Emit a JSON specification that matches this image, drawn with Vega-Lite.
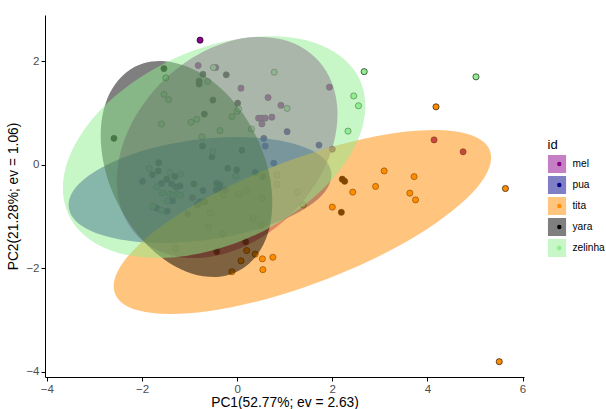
{
  "$schema": "https://vega.github.io/schema/vega-lite/v6.json",
  "width": 479,
  "height": 362,
  "autosize": {"type": "none"},
  "padding": {"left": 45, "top": 15, "right": 82, "bottom": 32},
  "background": "white",
  "config": {
    "view": {"stroke": null},
    "font": "Liberation Sans",
    "axis": {"labelFont": "Liberation Sans", "titleFont": "Liberation Sans"},
    "legend": {"labelFont": "Liberation Sans", "titleFont": "Liberation Sans"}
  },
  "datasets": {
    "pts": [
      {"id":"mel","pc1":-0.78,"pc2":2.41},{"id":"mel","pc1":-0.82,"pc2":1.92},{"id":"mel","pc1":-0.45,"pc2":1.88},
      {"id":"mel","pc1":0.08,"pc2":1.48},{"id":"mel","pc1":0.65,"pc2":1.30},{"id":"mel","pc1":0.92,"pc2":1.15},
      {"id":"mel","pc1":0.45,"pc2":0.90},{"id":"mel","pc1":0.52,"pc2":0.90},{"id":"mel","pc1":0.59,"pc2":0.90},
      {"id":"mel","pc1":0.73,"pc2":0.92},{"id":"mel","pc1":0.52,"pc2":0.79},{"id":"mel","pc1":1.94,"pc2":1.50},
      {"id":"mel","pc1":2.00,"pc2":0.30},{"id":"mel","pc1":4.14,"pc2":0.48},{"id":"mel","pc1":4.75,"pc2":0.25},
      {"id":"mel","pc1":-0.94,"pc2":-0.64},{"id":"mel","pc1":-0.25,"pc2":-0.49},
      {"id":"pua","pc1":1.05,"pc2":0.64},{"id":"pua","pc1":0.56,"pc2":0.51},{"id":"pua","pc1":0.59,"pc2":0.36},
      {"id":"pua","pc1":0.77,"pc2":0.03},{"id":"pua","pc1":1.72,"pc2":0.38},{"id":"pua","pc1":0.38,"pc2":-0.15},
      {"id":"pua","pc1":0.54,"pc2":-0.23},{"id":"pua","pc1":-1.99,"pc2":-0.32},{"id":"pua","pc1":-1.59,"pc2":-0.36},
      {"id":"pua","pc1":-1.38,"pc2":-0.37},{"id":"pua","pc1":-1.29,"pc2":-0.43},{"id":"pua","pc1":-1.36,"pc2":-0.70},
      {"id":"pua","pc1":-1.69,"pc2":-0.84},{"id":"pua","pc1":-1.47,"pc2":-0.90},{"id":"pua","pc1":-0.72,"pc2":-0.50},
      {"id":"pua","pc1":-0.78,"pc2":-0.72},{"id":"pua","pc1":-0.84,"pc2":-0.78},{"id":"pua","pc1":-1.04,"pc2":-0.95},
      {"id":"pua","pc1":-0.43,"pc2":-0.36},{"id":"pua","pc1":-0.44,"pc2":-0.49},
      {"id":"yara","pc1":-1.54,"pc2":1.86},{"id":"yara","pc1":-0.72,"pc2":1.75},{"id":"yara","pc1":-0.23,"pc2":1.74},
      {"id":"yara","pc1":-0.80,"pc2":1.62},{"id":"yara","pc1":-0.80,"pc2":1.56},{"id":"yara","pc1":-0.51,"pc2":1.25},
      {"id":"yara","pc1":0.01,"pc2":1.19},{"id":"yara","pc1":-0.69,"pc2":0.98},{"id":"yara","pc1":-2.59,"pc2":0.51},
      {"id":"yara","pc1":-0.73,"pc2":0.36},{"id":"yara","pc1":-0.53,"pc2":0.15},{"id":"yara","pc1":0.10,"pc2":0.28},
      {"id":"yara","pc1":-1.65,"pc2":0.04},{"id":"yara","pc1":-1.66,"pc2":-0.12},{"id":"yara","pc1":-1.78,"pc2":-0.19},
      {"id":"yara","pc1":-1.31,"pc2":-0.23},{"id":"yara","pc1":-1.48,"pc2":-0.28},{"id":"yara","pc1":-1.20,"pc2":-0.41},
      {"id":"yara","pc1":-0.91,"pc2":-0.37},{"id":"yara","pc1":-0.36,"pc2":-0.39},{"id":"yara","pc1":-0.39,"pc2":-0.48},
      {"id":"yara","pc1":-0.68,"pc2":-0.72},{"id":"yara","pc1":-0.20,"pc2":-0.07},{"id":"yara","pc1":-0.01,"pc2":-0.10},
      {"id":"yara","pc1":0.18,"pc2":-1.49},{"id":"yara","pc1":-0.43,"pc2":-1.68},{"id":"yara","pc1":2.21,"pc2":-0.28},
      {"id":"yara","pc1":2.26,"pc2":-0.32},{"id":"yara","pc1":2.19,"pc2":-0.92},
      {"id":"tita","pc1":0.20,"pc2":-1.66},{"id":"tita","pc1":0.38,"pc2":-1.73},{"id":"tita","pc1":0.53,"pc2":-1.82},
      {"id":"tita","pc1":0.75,"pc2":-1.79},{"id":"tita","pc1":0.08,"pc2":-1.86},{"id":"tita","pc1":0.54,"pc2":-2.03},
      {"id":"tita","pc1":-0.11,"pc2":-2.07},{"id":"tita","pc1":2.00,"pc2":-0.82},{"id":"tita","pc1":2.43,"pc2":-0.53},
      {"id":"tita","pc1":2.91,"pc2":-0.42},{"id":"tita","pc1":3.09,"pc2":-0.12},{"id":"tita","pc1":3.72,"pc2":-0.23},
      {"id":"tita","pc1":3.63,"pc2":-0.55},{"id":"tita","pc1":3.75,"pc2":-0.68},{"id":"tita","pc1":4.18,"pc2":1.12},
      {"id":"tita","pc1":5.64,"pc2":-0.46},{"id":"tita","pc1":5.51,"pc2":-3.81},
      {"id":"zelinha","pc1":-1.50,"pc2":1.68},{"id":"zelinha","pc1":-0.50,"pc2":1.88},{"id":"zelinha","pc1":-0.62,"pc2":1.61},
      {"id":"zelinha","pc1":0.78,"pc2":1.79},{"id":"zelinha","pc1":-1.54,"pc2":1.36},{"id":"zelinha","pc1":-1.44,"pc2":1.26},
      {"id":"zelinha","pc1":1.05,"pc2":1.09},{"id":"zelinha","pc1":0.00,"pc2":1.03},{"id":"zelinha","pc1":0.03,"pc2":1.08},
      {"id":"zelinha","pc1":-0.11,"pc2":0.93},{"id":"zelinha","pc1":-0.85,"pc2":0.88},{"id":"zelinha","pc1":-0.97,"pc2":0.82},
      {"id":"zelinha","pc1":-1.59,"pc2":0.79},{"id":"zelinha","pc1":-0.36,"pc2":0.66},{"id":"zelinha","pc1":0.30,"pc2":0.69},
      {"id":"zelinha","pc1":-0.74,"pc2":0.54},{"id":"zelinha","pc1":-0.51,"pc2":0.25},{"id":"zelinha","pc1":2.67,"pc2":1.80},
      {"id":"zelinha","pc1":2.45,"pc2":1.33},{"id":"zelinha","pc1":2.55,"pc2":1.14},{"id":"zelinha","pc1":2.33,"pc2":0.65},
      {"id":"zelinha","pc1":5.02,"pc2":1.70},{"id":"zelinha","pc1":-1.85,"pc2":-0.07},{"id":"zelinha","pc1":-1.41,"pc2":-0.15},
      {"id":"zelinha","pc1":-1.19,"pc2":-0.18},{"id":"zelinha","pc1":-1.69,"pc2":-0.43},{"id":"zelinha","pc1":-1.57,"pc2":-0.55},
      {"id":"zelinha","pc1":-1.41,"pc2":-0.57},{"id":"zelinha","pc1":-1.34,"pc2":-0.59},{"id":"zelinha","pc1":-1.26,"pc2":-0.57},
      {"id":"zelinha","pc1":-1.19,"pc2":-0.59},{"id":"zelinha","pc1":-1.47,"pc2":-0.70},{"id":"zelinha","pc1":-1.78,"pc2":-0.81},
      {"id":"zelinha","pc1":-1.59,"pc2":-0.88},{"id":"zelinha","pc1":-0.29,"pc2":-0.59},{"id":"zelinha","pc1":-0.03,"pc2":-0.22},
      {"id":"zelinha","pc1":0.20,"pc2":-0.51},{"id":"zelinha","pc1":0.03,"pc2":-0.57},{"id":"zelinha","pc1":0.84,"pc2":-0.20},
      {"id":"zelinha","pc1":0.84,"pc2":-0.38},{"id":"zelinha","pc1":0.52,"pc2":-0.65},{"id":"zelinha","pc1":-0.60,"pc2":-1.20},
      {"id":"zelinha","pc1":-0.30,"pc2":-1.33},{"id":"zelinha","pc1":0.33,"pc2":-1.04},{"id":"zelinha","pc1":0.50,"pc2":-1.17},
      {"id":"zelinha","pc1":-1.29,"pc2":-1.62},{"id":"zelinha","pc1":1.26,"pc2":-0.53},{"id":"zelinha","pc1":1.39,"pc2":-0.78},
      {"id":"zelinha","pc1":-0.57,"pc2":-0.93}
    ],
    "ell": [
      {"id":"mel","k":0,"pc1":2.110,"pc2":0.974},{"id":"mel","k":1,"pc1":2.031,"pc2":1.480},{"id":"mel","k":2,"pc1":1.799,"pc2":1.908},
      {"id":"mel","k":3,"pc1":1.430,"pc2":2.228},{"id":"mel","k":4,"pc1":0.950,"pc2":2.420},{"id":"mel","k":5,"pc1":0.390,"pc2":2.469},
      {"id":"mel","k":6,"pc1":-0.211,"pc2":2.372},{"id":"mel","k":7,"pc1":-0.812,"pc2":2.137},{"id":"mel","k":8,"pc1":-1.372,"pc2":1.778},
      {"id":"mel","k":9,"pc1":-1.852,"pc2":1.322},{"id":"mel","k":10,"pc1":-2.221,"pc2":0.798},{"id":"mel","k":11,"pc1":-2.453,"pc2":0.242},
      {"id":"mel","k":12,"pc1":-2.532,"pc2":-0.308},{"id":"mel","k":13,"pc1":-2.453,"pc2":-0.814},{"id":"mel","k":14,"pc1":-2.221,"pc2":-1.242},
      {"id":"mel","k":15,"pc1":-1.852,"pc2":-1.562},{"id":"mel","k":16,"pc1":-1.372,"pc2":-1.754},{"id":"mel","k":17,"pc1":-0.812,"pc2":-1.803},
      {"id":"mel","k":18,"pc1":-0.211,"pc2":-1.706},{"id":"mel","k":19,"pc1":0.390,"pc2":-1.471},{"id":"mel","k":20,"pc1":0.950,"pc2":-1.112},
      {"id":"mel","k":21,"pc1":1.430,"pc2":-0.656},{"id":"mel","k":22,"pc1":1.799,"pc2":-0.132},{"id":"mel","k":23,"pc1":2.031,"pc2":0.424},
      {"id":"pua","k":0,"pc1":1.983,"pc2":-0.199},{"id":"pua","k":1,"pc1":1.889,"pc2":0.046},{"id":"pua","k":2,"pc1":1.613,"pc2":0.254},
      {"id":"pua","k":3,"pc1":1.173,"pc2":0.411},{"id":"pua","k":4,"pc1":0.601,"pc2":0.507},{"id":"pua","k":5,"pc1":-0.065,"pc2":0.536},
      {"id":"pua","k":6,"pc1":-0.781,"pc2":0.494},{"id":"pua","k":7,"pc1":-1.497,"pc2":0.386},{"id":"pua","k":8,"pc1":-2.163,"pc2":0.217},
      {"id":"pua","k":9,"pc1":-2.735,"pc2":0.001},{"id":"pua","k":10,"pc1":-3.175,"pc2":-0.248},{"id":"pua","k":11,"pc1":-3.451,"pc2":-0.514},
      {"id":"pua","k":12,"pc1":-3.545,"pc2":-0.779},{"id":"pua","k":13,"pc1":-3.451,"pc2":-1.024},{"id":"pua","k":14,"pc1":-3.175,"pc2":-1.232},
      {"id":"pua","k":15,"pc1":-2.735,"pc2":-1.389},{"id":"pua","k":16,"pc1":-2.163,"pc2":-1.485},{"id":"pua","k":17,"pc1":-1.497,"pc2":-1.514},
      {"id":"pua","k":18,"pc1":-0.781,"pc2":-1.472},{"id":"pua","k":19,"pc1":-0.065,"pc2":-1.364},{"id":"pua","k":20,"pc1":0.601,"pc2":-1.195},
      {"id":"pua","k":21,"pc1":1.173,"pc2":-0.979},{"id":"pua","k":22,"pc1":1.613,"pc2":-0.730},{"id":"pua","k":23,"pc1":1.889,"pc2":-0.464},
      {"id":"tita","k":0,"pc1":5.339,"pc2":0.135},{"id":"tita","k":1,"pc1":5.204,"pc2":0.423},{"id":"tita","k":2,"pc1":4.807,"pc2":0.606},
      {"id":"tita","k":3,"pc1":4.176,"pc2":0.672},{"id":"tita","k":4,"pc1":3.355,"pc2":0.618},{"id":"tita","k":5,"pc1":2.399,"pc2":0.446},
      {"id":"tita","k":6,"pc1":1.371,"pc2":0.167},{"id":"tita","k":7,"pc1":0.343,"pc2":-0.198},{"id":"tita","k":8,"pc1":-0.613,"pc2":-0.626},
      {"id":"tita","k":9,"pc1":-1.434,"pc2":-1.086},{"id":"tita","k":10,"pc1":-2.065,"pc2":-1.546},{"id":"tita","k":11,"pc1":-2.462,"pc2":-1.979},
      {"id":"tita","k":12,"pc1":-2.597,"pc2":-2.351},{"id":"tita","k":13,"pc1":-2.462,"pc2":-2.639},{"id":"tita","k":14,"pc1":-2.065,"pc2":-2.822},
      {"id":"tita","k":15,"pc1":-1.434,"pc2":-2.888},{"id":"tita","k":16,"pc1":-0.613,"pc2":-2.834},{"id":"tita","k":17,"pc1":0.343,"pc2":-2.662},
      {"id":"tita","k":18,"pc1":1.371,"pc2":-2.383},{"id":"tita","k":19,"pc1":2.399,"pc2":-2.018},{"id":"tita","k":20,"pc1":3.355,"pc2":-1.590},
      {"id":"tita","k":21,"pc1":4.176,"pc2":-1.130},{"id":"tita","k":22,"pc1":4.807,"pc2":-0.670},{"id":"tita","k":23,"pc1":5.204,"pc2":-0.237},
      {"id":"yara","k":0,"pc1":0.739,"pc2":-0.731},{"id":"yara","k":1,"pc1":0.678,"pc2":-0.195},{"id":"yara","k":2,"pc1":0.497,"pc2":0.349},
      {"id":"yara","k":3,"pc1":0.210,"pc2":0.863},{"id":"yara","k":4,"pc1":-0.163,"pc2":1.313},{"id":"yara","k":5,"pc1":-0.598,"pc2":1.667},
      {"id":"yara","k":6,"pc1":-1.065,"pc2":1.903},{"id":"yara","k":7,"pc1":-1.532,"pc2":2.003},{"id":"yara","k":8,"pc1":-1.967,"pc2":1.961},
      {"id":"yara","k":9,"pc1":-2.340,"pc2":1.779},{"id":"yara","k":10,"pc1":-2.627,"pc2":1.471},{"id":"yara","k":11,"pc1":-2.808,"pc2":1.057},
      {"id":"yara","k":12,"pc1":-2.869,"pc2":0.565},{"id":"yara","k":13,"pc1":-2.808,"pc2":0.029},{"id":"yara","k":14,"pc1":-2.627,"pc2":-0.515},
      {"id":"yara","k":15,"pc1":-2.340,"pc2":-1.029},{"id":"yara","k":16,"pc1":-1.967,"pc2":-1.479},{"id":"yara","k":17,"pc1":-1.532,"pc2":-1.833},
      {"id":"yara","k":18,"pc1":-1.065,"pc2":-2.069},{"id":"yara","k":19,"pc1":-0.598,"pc2":-2.169},{"id":"yara","k":20,"pc1":-0.163,"pc2":-2.127},
      {"id":"yara","k":21,"pc1":0.210,"pc2":-1.945},{"id":"yara","k":22,"pc1":0.497,"pc2":-1.637},{"id":"yara","k":23,"pc1":0.678,"pc2":-1.223},
      {"id":"zelinha","k":0,"pc1":2.694,"pc2":1.138},{"id":"zelinha","k":1,"pc1":2.586,"pc2":1.627},{"id":"zelinha","k":2,"pc1":2.268,"pc2":2.027},
      {"id":"zelinha","k":3,"pc1":1.763,"pc2":2.313},{"id":"zelinha","k":4,"pc1":1.105,"pc2":2.465},{"id":"zelinha","k":5,"pc1":0.338,"pc2":2.472},
      {"id":"zelinha","k":6,"pc1":-0.485,"pc2":2.334},{"id":"zelinha","k":7,"pc1":-1.308,"pc2":2.060},{"id":"zelinha","k":8,"pc1":-2.075,"pc2":1.669},
      {"id":"zelinha","k":9,"pc1":-2.733,"pc2":1.187},{"id":"zelinha","k":10,"pc1":-3.238,"pc2":0.649},{"id":"zelinha","k":11,"pc1":-3.556,"pc2":0.089},
      {"id":"zelinha","k":12,"pc1":-3.664,"pc2":-0.454},{"id":"zelinha","k":13,"pc1":-3.556,"pc2":-0.943},{"id":"zelinha","k":14,"pc1":-3.238,"pc2":-1.343},
      {"id":"zelinha","k":15,"pc1":-2.733,"pc2":-1.629},{"id":"zelinha","k":16,"pc1":-2.075,"pc2":-1.781},{"id":"zelinha","k":17,"pc1":-1.308,"pc2":-1.788},
      {"id":"zelinha","k":18,"pc1":-0.485,"pc2":-1.650},{"id":"zelinha","k":19,"pc1":0.338,"pc2":-1.376},{"id":"zelinha","k":20,"pc1":1.105,"pc2":-0.985},
      {"id":"zelinha","k":21,"pc1":1.763,"pc2":-0.503},{"id":"zelinha","k":22,"pc1":2.268,"pc2":0.035},{"id":"zelinha","k":23,"pc1":2.586,"pc2":0.595}
    ]
  },
  "encoding": {
    "x": {
      "field": "pc1", "type": "quantitative",
      "scale": {"domain": [-4.04, 6.03], "nice": false, "zero": false},
      "axis": {
        "title": "PC1(52.77%; ev = 2.63)", "values": [-4, -2, 0, 2, 4, 6], "grid": false,
        "domainColor": "#000000", "domainWidth": 1, "tickColor": "#000000", "tickSize": 4, "tickWidth": 1,
        "labelColor": "#4d4d4d", "labelFontSize": 11.5, "labelPadding": 2, "labelFlush": false,
        "titleFontSize": 13.8, "titleFontWeight": "normal", "titleColor": "#000000", "titlePadding": 1
      }
    },
    "y": {
      "field": "pc2", "type": "quantitative",
      "scale": {"domain": [-4.106, 2.896], "nice": false, "zero": false},
      "axis": {
        "title": "PC2(21.28%; ev = 1.06)", "values": [-4, -2, 0, 2], "grid": false,
        "domainColor": "#000000", "domainWidth": 1, "tickColor": "#000000", "tickSize": 4, "tickWidth": 1,
        "labelColor": "#4d4d4d", "labelFontSize": 11.5, "labelPadding": 2, "labelFlush": false,
        "titleFontSize": 13.8, "titleFontWeight": "normal", "titleColor": "#000000", "titlePadding": 5
      }
    }
  },
  "layer": [
    {
      "data": {"name": "pts"},
      "mark": {"type": "point", "filled": true, "shape": "circle", "size": 38, "stroke": "#000000", "strokeWidth": 0.6, "opacity": 1},
      "encoding": {
        "color": {
          "field": "id", "type": "nominal",
          "scale": {"range": ["#8b008b", "#00008b", "#ff8c00", "#000000", "#90ee90"]},
          "legend": {
            "orient": "none", "legendX": 509.2, "legendY": 124, "zindex": 2,
            "title": " ", "titleFontSize": 13, "titleFontWeight": "normal", "titlePadding": 3,
            "labelExpr": "''", "labelFontSize": 10.2,
            "symbolType": "circle", "symbolSize": 20, "symbolStrokeWidth": 0, "symbolOpacity": 1,
            "clipHeight": 18, "rowPadding": 3
          }
        }
      }
    },
    {
      "data": {"name": "ell"},
      "mark": {"type": "line", "interpolate": "cardinal-closed", "opacity": 0.5, "stroke": "transparent", "strokeWidth": 0},
      "encoding": {
        "order": {"field": "k", "type": "quantitative"},
        "fill": {
          "field": "id", "type": "nominal",
          "scale": {"domain": ["mel", "pua", "tita", "yara", "zelinha"], "range": ["#8b008b", "#00008b", "#ff8c00", "#000000", "#90ee90"]},
          "legend": {
            "orient": "none", "legendX": 502.5, "legendY": 124, "zindex": 1,
            "title": "id", "titleFontSize": 13, "titleFontWeight": "normal", "titleColor": "#000000", "titlePadding": 3,
            "labelFontSize": 10.2, "labelColor": "#000000", "labelOffset": 6,
            "symbolType": "square", "symbolSize": 330, "symbolStrokeWidth": 0, "symbolOpacity": 0.5,
            "clipHeight": 18, "rowPadding": 3
          }
        }
      }
    }
  ]
}
